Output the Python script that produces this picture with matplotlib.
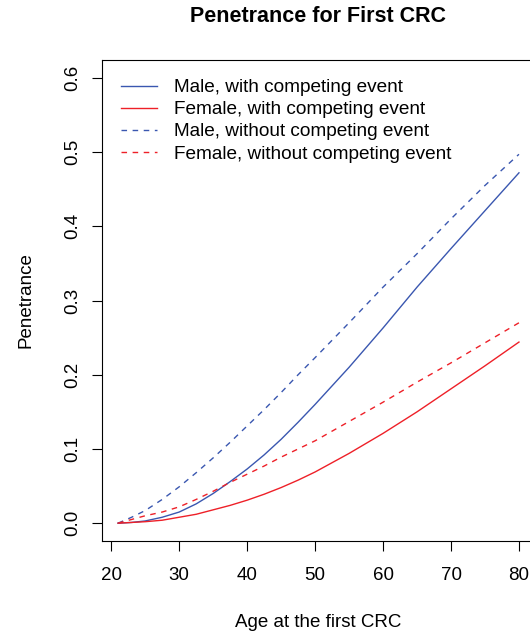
import matplotlib
matplotlib.use("Agg")
import matplotlib.pyplot as plt
import numpy as np

plt.rcParams['font.family'] = ['Liberation Sans', 'DejaVu Sans']

age = [21, 23, 25, 27.5, 30, 32.5, 35, 37.5, 40, 42.5, 45, 47.5, 50, 55, 60, 65, 70, 75, 80]
male_comp = [0.0, 0.001, 0.003, 0.008, 0.015, 0.026, 0.040, 0.056, 0.073, 0.092, 0.113,
             0.136, 0.160, 0.210, 0.263, 0.318, 0.370, 0.421, 0.472]
female_comp = [0.0, 0.001, 0.002, 0.004, 0.008, 0.012, 0.018, 0.024, 0.031, 0.039, 0.048,
               0.058, 0.069, 0.094, 0.121, 0.150, 0.181, 0.212, 0.244]
male_nocomp = [0.0, 0.008, 0.017, 0.032, 0.049, 0.068, 0.088, 0.109, 0.131, 0.153, 0.176,
               0.200, 0.223, 0.270, 0.318, 0.363, 0.410, 0.455, 0.497]
female_nocomp = [0.0, 0.005, 0.010, 0.015, 0.022, 0.032, 0.043, 0.055, 0.066, 0.077, 0.089,
                 0.100, 0.111, 0.137, 0.163, 0.190, 0.216, 0.243, 0.270]
labels = ["Male, with competing event", "Female, with competing event",
          "Male, without competing event", "Female, without competing event"]

blue = "#3a57b0"
red = "#ee2028"

fig = plt.figure(figsize=(5.3, 6.36), dpi=100)
ax = fig.add_axes([102 / 530, 1 - 541 / 636, 433 / 530, 481 / 636])

ax.plot(age, male_comp, color=blue, lw=1, label=labels[0])
ax.plot(age, female_comp, color=red, lw=1, label=labels[1])
ax.plot(age, male_nocomp, color=blue, lw=1, ls=(0, (4, 4)), label=labels[2])
ax.plot(age, female_nocomp, color=red, lw=1, ls=(0, (4, 4)), label=labels[3])

ax.set_xlim(18.64, 82.36)
ax.set_ylim(-0.024, 0.624)
ax.set_xticks([20, 30, 40, 50, 60, 70, 80])
ax.set_yticks([0.0, 0.1, 0.2, 0.3, 0.4, 0.5, 0.6])
ax.set_yticklabels(["0.0", "0.1", "0.2", "0.3", "0.4", "0.5", "0.6"],
                   rotation=90, va="center")
ax.tick_params(direction="out", length=7, width=0.8, labelsize=13.5, pad=8)
ax.tick_params(axis="x", pad=12)
for s in ax.spines.values():
    s.set_linewidth(0.8)

ax.set_xlabel("Age at the first CRC", fontsize=13.5, labelpad=21)
ax.set_ylabel("Penetrance", fontsize=13.5, labelpad=21)
fig.text(318 / 530, 1 - 17 / 636, "Penetrance for First CRC", fontsize=15.5,
         fontweight="bold", ha="center", va="center")

ax.legend(loc="upper left", frameon=False, fontsize=13.7, handlelength=1.9,
          handletextpad=0.9, labelspacing=0.25, borderaxespad=0.6,
          bbox_to_anchor=(0.0, 1.0))

fig.savefig("out.png", dpi=100)
